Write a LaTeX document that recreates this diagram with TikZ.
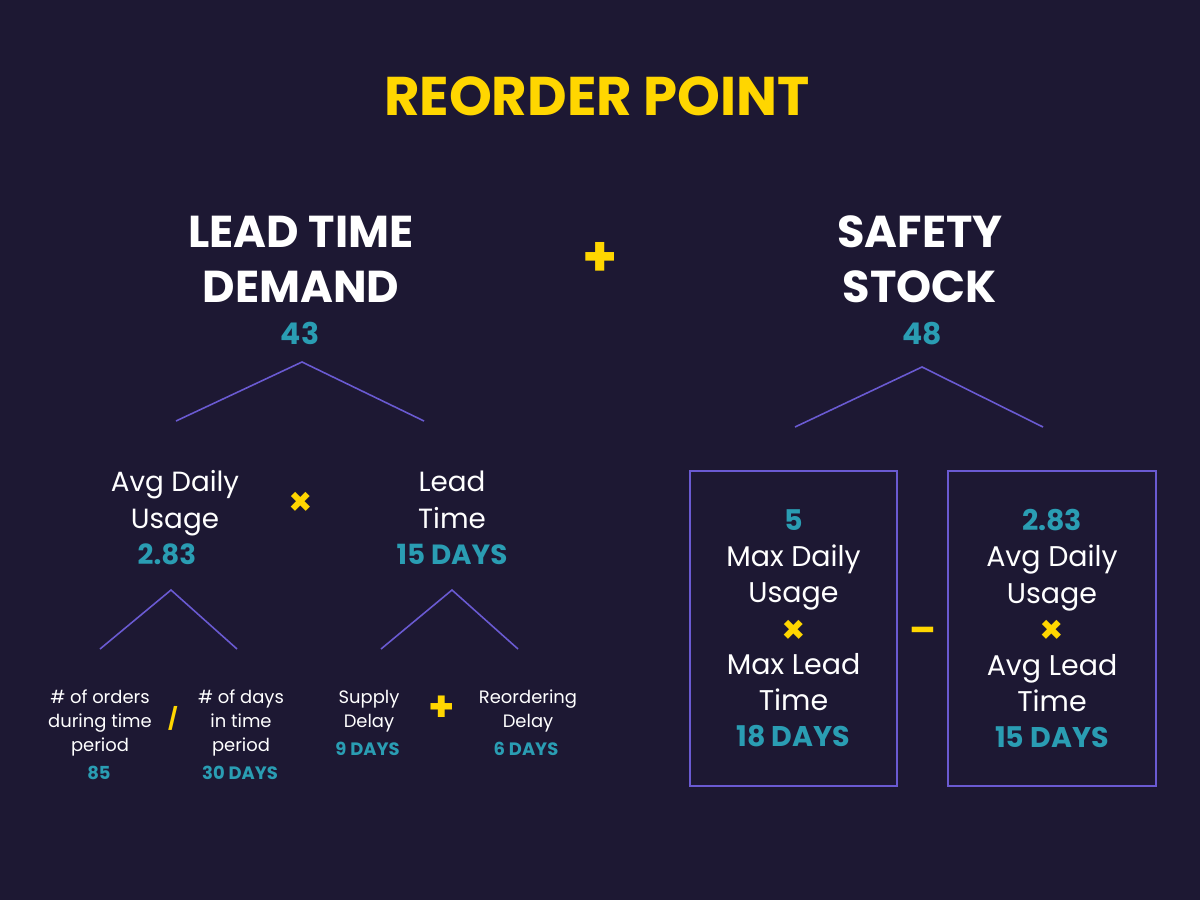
\documentclass[tikz,border=0pt]{standalone}
\usepackage{fontspec}
\setmainfont{Poppins}
\usepackage{tikz}
\definecolor{ropbg}{HTML}{1D1833}
\definecolor{ropyellow}{HTML}{FFD600}
\definecolor{ropteal}{HTML}{2A9DB3}
\definecolor{roppurple}{HTML}{6A5AD2}
\tikzset{
  lbl/.style={inner sep=0pt, anchor=base},
  title/.style={lbl, text=ropyellow, font=\fontsize{15.5}{18}\selectfont\bfseries},
  head/.style={lbl, text=white, align=center, font=\fontsize{12.7}{15.4}\selectfont\bfseries},
  total/.style={lbl, text=ropteal, font=\fontsize{8.5}{10}\selectfont\bfseries},
  term/.style={lbl, text=white, align=center, font=\fontsize{7.9}{10.25}\selectfont},
  termval/.style={lbl, text=ropteal, font=\fontsize{7.9}{10.25}\selectfont\bfseries},
  small/.style={lbl, text=white, align=center, font=\fontsize{5.1}{6.8}\selectfont},
  smallval/.style={lbl, text=ropteal, font=\fontsize{5.1}{6.8}\selectfont\bfseries},
  op/.style={inner sep=0pt, text=ropyellow, font=\fontsize{#1}{#1}\selectfont\bfseries},
  branch/.style={draw=roppurple, line width=0.45pt},
  factorbox/.style={draw=roppurple, line width=0.55pt, inner sep=0pt, align=center,
    text=white, minimum width=2.07cm, minimum height=3.15cm,
    font=\fontsize{8.1}{10.25}\selectfont},
}
\newcommand{\val}[1]{{\color{ropteal}\bfseries #1}}
\newcommand{\mul}{\raisebox{-1.3pt}{\color{ropyellow}\fontsize{11}{10.25}\selectfont\bfseries\texttimes}}
\begin{document}
\begin{tikzpicture}[x=0.01cm, y=-0.01cm]
        \fill[ropbg] (0,0) rectangle (1200,900);
        \node[title] (rop) at (597,115) {REORDER POINT};
        % top level
        \node[head] (ltd) at (301,302) {LEAD TIME\\DEMAND};
        \node[total] (ltdv) at (300,344) {43};
        \node[op=16] (plus) at (600,259) {+};
        \node[head] (ss) at (920,302) {SAFETY\\STOCK};
        \node[total] (ssv) at (922,344) {48};
        \coordinate (ltdtop) at (302,362);
        \coordinate (ltdl) at (176,421);
        \coordinate (ltdr) at (424,421);
        \draw[branch] (ltdl) -- (ltdtop) -- (ltdr);
        \coordinate (sstop) at (922,367);
        \coordinate (ssl) at (795,427);
        \coordinate (ssr) at (1043,427);
        \draw[branch] (ssl) -- (sstop) -- (ssr);
        % lead time demand
        \node[term] (adu) at (175,528) {Avg Daily\\Usage};
        \node[termval] (aduv) at (167,564) {2.83};
        \node[op=11] (times) at (301,504) {\texttimes};
        \node[term] (lt) at (452,528) {Lead\\Time};
        \node[termval] (ltv) at (452,564) {15 DAYS};
        \coordinate (adutop) at (171,590);
        \coordinate (adul) at (100,649);
        \coordinate (adur) at (237,649);
        \draw[branch] (adul) -- (adutop) -- (adur);
        \coordinate (lttop) at (452,590);
        \coordinate (ltl) at (381,649);
        \coordinate (ltr) at (518,649);
        \draw[branch] (ltl) -- (lttop) -- (ltr);
        \node[small] (orders) at (100,751) {\# of orders\\during time\\period};
        \node[smallval] (ordersv) at (99,779) {85};
        \node[op=6] (slash) at (173,718) {/};
        \node[small] (days) at (241,751) {\# of days\\in time\\period};
        \node[smallval] (daysv) at (240,779) {30 DAYS};
        \node[small] (supply) at (369,727) {Supply\\Delay};
        \node[smallval] (supplyv) at (367.5,755) {9 DAYS};
        \node[op=12] (plussm) at (442,709) {+};
        \node[small] (reord) at (528,727) {Reordering\\Delay};
        \node[smallval] (reordv) at (526,755) {6 DAYS};
        % safety stock
        \node[factorbox] (maxbox) at (793.5,628.5)
          {\val{5}\\Max Daily\\Usage\\\mul\\Max Lead\\Time\\\val{18 DAYS}};
        \node[op=11, anchor=base] (minus) at (923,643) {\textendash};
        \node[factorbox] (avgbox) at (1052,628.5)
          {\val{2.83}\\Avg Daily\\Usage\\\mul\\Avg Lead\\Time\\\val{15 DAYS}};
      \end{tikzpicture}
\end{document}
